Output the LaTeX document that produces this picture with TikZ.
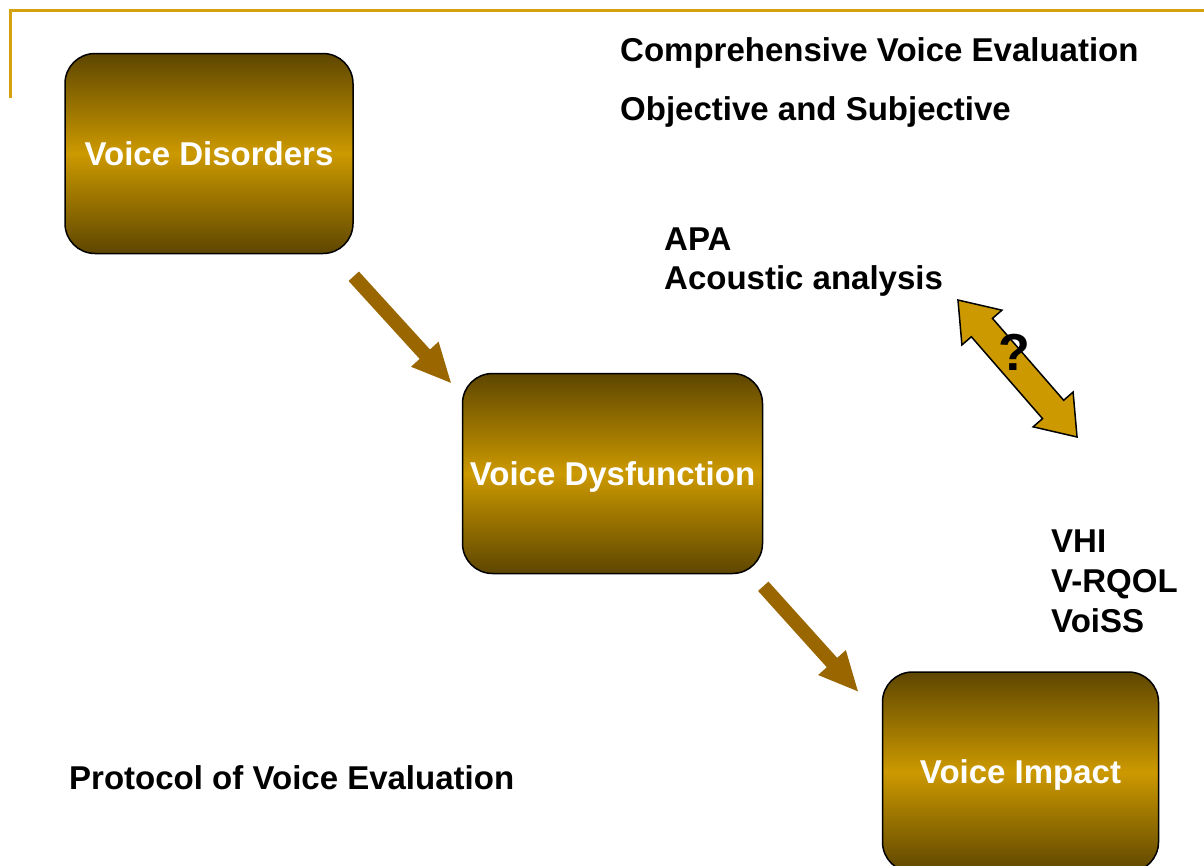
\documentclass[tikz,border=0pt]{standalone}
\usepackage{fontspec}
\setmainfont{Liberation Sans}
\usetikzlibrary{arrows.meta,positioning}

\definecolor{gold}{HTML}{CC9900}
\definecolor{darkgold}{HTML}{5E4600}
\definecolor{arrowbrown}{HTML}{996600}
\definecolor{rulegold}{HTML}{D6A10E}
\def\linkarrow{(-90.75,0) -- (-54.25,26.5) -- (-54.25,14) -- (54.25,14) -- (54.25,26.5) -- (90.75,0) -- (54.25,-26.5) -- (54.25,-14) -- (-54.25,-14) -- (-54.25,-26.5) -- cycle}
\def\bigfont{\bfseries\fontsize{33}{39}\selectfont}
\tikzset{stage/.style={draw=black, line width=1.5pt, rounded corners=30pt, inner sep=0pt,
		minimum height=200pt, top color=darkgold, bottom color=darkgold, middle color=gold,
		text=white, font=\bigfont, text height=23.5pt, text depth=0pt},
	remark/.style={anchor=base west, inner sep=0pt, font=\bigfont},
	flow/.style={draw=arrowbrown, line width=14pt, -{Triangle[length=40pt,width=34pt]}}}

\begin{document}
\begin{tikzpicture}[x=1pt, y=1pt]

	\useasboundingbox (0,0) rectangle (1204,-865);
	\draw[rulegold, line width=3pt] (10,-98) -- (10,-10) -- (1204,-10);

	\node[stage, minimum width=288pt] (dis) at (209,-153.5) {Voice Disorders};
	\node[stage, minimum width=300pt] (dys) at (612.5,-473.5) {Voice Dysfunction};
	\node[stage, minimum width=276pt] (imp) at (1020.5,-772) {Voice Impact};

	\draw[flow] ([yshift=-22pt]dis.south east) -- ([shift={(-10pt,-11pt)}]dys.north west);
	\draw[flow] ([yshift=-12pt]dys.south east) -- ([shift={(-23pt,-21pt)}]imp.north west);

	\node[remark] (title) at (620,-61) {Comprehensive Voice Evaluation};
	\node[remark] (subtitle) at (620,-120) {Objective and Subjective};
	\node[remark] (apa) at (664,-250) {APA};
	\node[remark] (acoustic) at ([yshift=-39pt]apa.base west) {Acoustic analysis};
	\node[remark] (vhi) at (1051,-552) {VHI};
	\node[remark] (vrqol) at ([yshift=-40pt]vhi.base west) {V-RQOL};
	\node[remark] (voiss) at ([yshift=-40pt]vrqol.base west) {VoiSS};
	\node[remark] (protocol) at (69,-789) {Protocol of Voice Evaluation};

	\begin{scope}[shift={(1017.5,-368.5)}, rotate=-49]
		\draw[fill=gold, line width=1.5pt] \linkarrow;
	\end{scope}
	\node[font=\bfseries\fontsize{52}{60}\selectfont, inner sep=0pt] (qmark) at (1014,-352) {?};

\end{tikzpicture}
\end{document}
